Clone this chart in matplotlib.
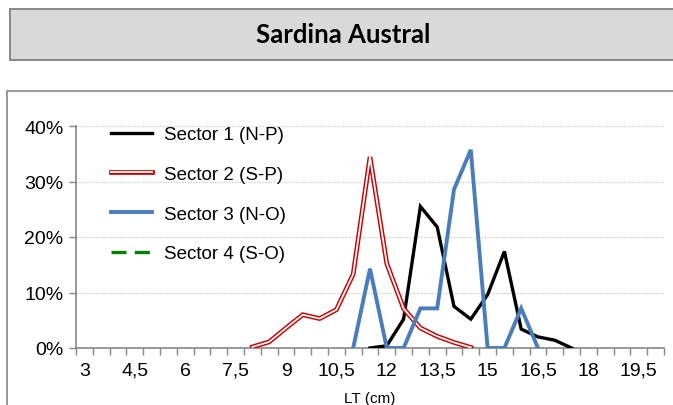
import numpy as np
import matplotlib
matplotlib.use("Agg")
import matplotlib.pyplot as plt
from matplotlib.patches import Rectangle
from matplotlib.lines import Line2D

# ---- data ----
categories = [3 + 0.5 * i for i in range(35)]  # LT (cm) 3 .. 20
tick_labels = ["3", "4,5", "6", "7,5", "9", "10,5", "12", "13,5", "15", "16,5", "18", "19,5"]

s1_lengths = [11.5, 12, 12.5, 13, 13.5, 14, 14.5, 15, 15.5, 16, 16.5, 17, 17.5]
s1_values = [0.0, 0.4, 5.2, 25.5, 21.8, 7.5, 5.2, 9.6, 17.4, 3.4, 2.0, 1.4, 0.0]

s2_lengths = [8, 8.5, 9, 9.5, 10, 10.5, 11, 11.5, 12, 12.5, 13, 13.5, 14, 14.5]
s2_values = [0.2, 1.1, 3.6, 6.0, 5.3, 6.9, 13.3, 34.4, 15.2, 7.1, 3.6, 2.1, 1.0, 0.1]

s3_lengths = [11, 11.5, 12, 12.5, 13, 13.5, 14, 14.5, 15, 15.5, 16, 16.5]
s3_values = [0.0, 14.29, 0.0, 0.0, 7.14, 7.14, 28.57, 35.71, 0.0, 0.0, 7.14, 0.0]

s4_lengths = []
s4_values = []

series_names = ["Sector 1 (N-P)", "Sector 2 (S-P)", "Sector 3 (N-O)", "Sector 4 (S-O)"]
title = "Sardina Austral"

# ---- figure ----
W, H = 673, 406
fig = plt.figure(figsize=(W / 100, H / 100), dpi=100)

# title box
fig.patches.append(Rectangle((10 / W, 1 - 61 / H), 1.0, 51.5 / H, transform=fig.transFigure,
                             facecolor="#d9d9d9", edgecolor="#808080", lw=1.3, zorder=0))
fig.text(343 / W, 1 - 35 / H, title, ha="center", va="center", fontsize=18.5,
         fontweight="bold", family="Lato", color="#000000")

# chart area border
fig.patches.append(Rectangle((6.5 / W, -0.1), 1.0, 0.1 + 1 - 92 / H, transform=fig.transFigure,
                             facecolor="none", edgecolor="#868686", lw=1.2, zorder=0))

ax = fig.add_axes([76 / W, 1 - 349 / H, (664 - 76) / W, (349 - 127) / H])
ax.set_facecolor("none")

def idx(lengths):
    return [categories.index(l) for l in lengths]

x1 = idx(s1_lengths)
x2 = idx(s2_lengths)
x3 = idx(s3_lengths)
x4 = idx(s4_lengths)
v1 = np.array(s1_values) / 100
v2 = np.array(s2_values) / 100
v3 = np.array(s3_values) / 100
v4 = np.array(s4_values) / 100

l1, = ax.plot(x1, v1, color="black", lw=2.4, solid_joinstyle="miter", zorder=3)
l2a, = ax.plot(x2, v2, color="#cc0000", lw=3.4, solid_joinstyle="miter", zorder=4)
l2b, = ax.plot(x2, v2, color="white", lw=1.3, solid_joinstyle="miter", zorder=4)
l3, = ax.plot(x3, v3, color="#4a7ebb", lw=2.8, solid_joinstyle="miter", zorder=5)
l4, = ax.plot(x4, v4, color="#008000", lw=2.4, ls=(0, (4.5, 2.5)), zorder=6)

ax.set_xlim(-0.5, 34.5)
ax.set_ylim(0, 0.4)

ax.set_yticks([0, 0.1, 0.2, 0.3, 0.4])
ax.set_yticklabels(["0%", "10%", "20%", "30%", "40%"])
ax.yaxis.grid(True, color="#c0c0c0", ls=(0, (1, 1.5)), lw=0.8)
ax.set_axisbelow(True)

major = [categories.index(float(t.replace(",", "."))) for t in tick_labels]
ax.set_xticks(major)
ax.set_xticklabels(tick_labels)
ax.set_xticks(np.arange(-0.5, 35, 1), minor=True)
ax.tick_params(axis="x", which="major", length=0, pad=10, labelsize=14)
ax.tick_params(axis="x", which="minor", length=5, color="#868686", width=1)
ax.tick_params(axis="y", length=5, color="#868686", width=1, labelsize=14, pad=4)
for t in ax.get_xticklabels() + ax.get_yticklabels():
    t.set_family("Liberation Sans")

for s in ["top", "right"]:
    ax.spines[s].set_visible(False)
for s in ["left", "bottom"]:
    ax.spines[s].set_color("#868686")
    ax.spines[s].set_linewidth(1.2)

ax.set_xlabel("LT (cm)", fontsize=11, family="Liberation Sans", labelpad=9)

leg = ax.legend([l1, (l2a, l2b), l3, l4], series_names, loc="upper left",
                bbox_to_anchor=(0.031, 1.075), frameon=False, handlelength=2.2,
                handletextpad=0.6, labelspacing=1.2,
                prop={"family": "Liberation Sans", "size": 13.5})

fig.savefig("out.png", dpi=100)
